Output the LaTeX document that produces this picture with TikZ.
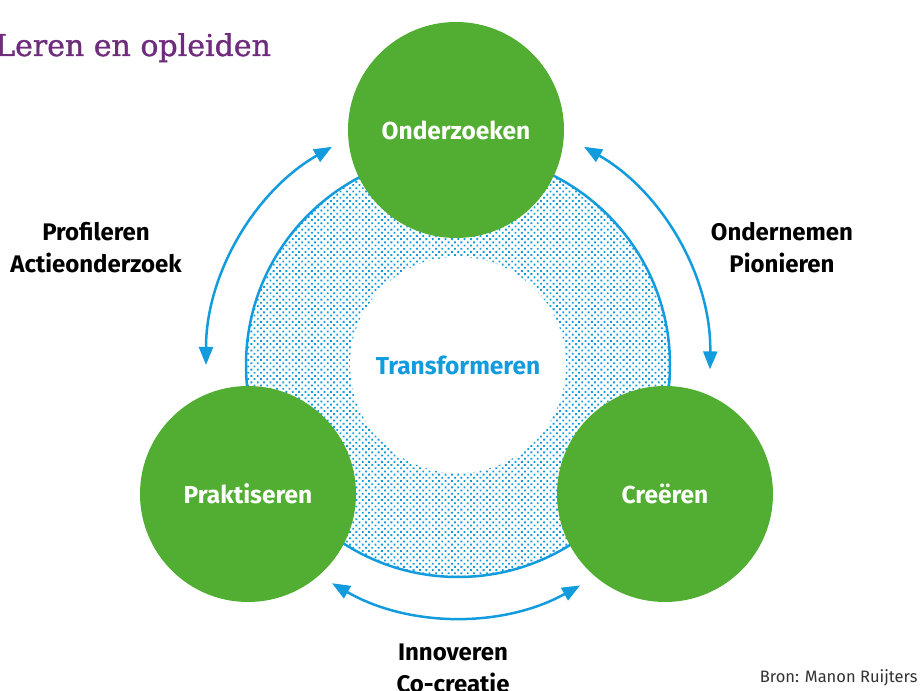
\documentclass[tikz,border=0pt]{standalone}
\usepackage{fontspec}
\setmainfont{Fira Sans}
\newfontfamily\titlefont[FakeBold=1.2]{DejaVu Serif}
\usetikzlibrary{arrows.meta,patterns.meta}
\definecolor{cgreen}{RGB}{82,174,50}
\definecolor{cblue}{RGB}{18,156,221}
\definecolor{cpurple}{RGB}{112,44,124}
\definecolor{cgray}{RGB}{50,50,50}
\tikzset{
  bigcirc/.style={circle, fill=cgreen, minimum size=216pt, inner sep=0pt, text=white, font=\fontsize{24.5}{28}\selectfont\bfseries},
  arr/.style={cblue, line width=2.5pt, {Triangle[length=18pt,width=14pt]}-{Triangle[length=18pt,width=14pt]}},
  lbl/.style={align=center, font=\fontsize{24}{32}\selectfont\bfseries, text=black},
}
\begin{document}
\begin{tikzpicture}[x=1pt,y=1pt]
\useasboundingbox (0,0) rectangle (922,691);
\coordinate (C) at (458,326);
% outer dotted ring
\node[circle, minimum size=424pt, inner sep=0pt, draw=cblue, line width=2.5pt,
      pattern={Dots[distance=4.5pt,radius=1.3pt,angle=45]}, pattern color=cblue] (ring) at (C) {};
\node[circle, fill=white, minimum size=216pt, inner sep=0pt, text=cblue,
      font=\fontsize{24.5}{28}\selectfont\bfseries] (core) at (C) {Transformeren};
% green circles
\node[bigcirc] (ond) at (456,561) {Onderzoeken};
\node[bigcirc] (pra) at (248,197) {Praktiseren};
\node[bigcirc] (cre) at (665,197) {Creëren};
% arrow end points
\path (C) ++(120:252pt) coordinate (la);
\path (C) ++(60:252pt) coordinate (ra);
\path (C) ++(240:252pt) coordinate (ba);
\draw[arr] (la) arc[start angle=120, end angle=180, radius=252pt];
\draw[arr] (ra) arc[start angle=60, end angle=-1, radius=252pt];
\draw[arr] (ba) arc[start angle=240, end angle=299, radius=252pt];
% labels
\node[lbl] (l1) at (96,443) {Profileren\\Actieonderzoek};
\node[lbl] (l2) at (782,443) {Ondernemen\\Pionieren};
\node[lbl] (l3) at (453,23) {Innoveren\\Co-creatie};
\node[anchor=east, text=cgray, font=\fontsize{16.5}{20}\selectfont] (src) at (921,13) {Bron: Manon Ruijters};
\node[anchor=base west, text=cpurple, font=\titlefont\fontsize{30}{34}\selectfont, inner sep=0pt] (title) at (-5,635) {Leren en opleiden};
\end{tikzpicture}
\end{document}
